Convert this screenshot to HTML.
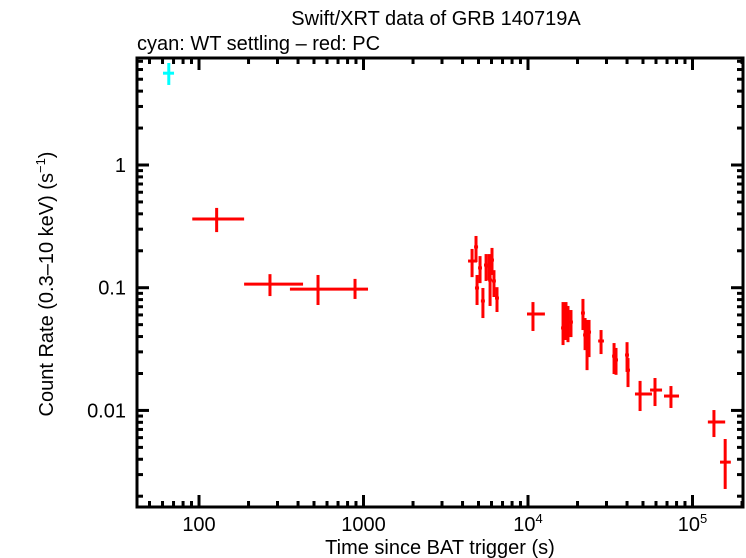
<!DOCTYPE html>
<html><head><meta charset="utf-8"><style>
html,body{margin:0;padding:0;background:#fff;}
svg{display:block;font-family:"Liberation Sans",sans-serif;}
</style></head><body>
<svg id="chart" width="746" height="558" viewBox="0 0 746 558" xmlns="http://www.w3.org/2000/svg">
<text x="436" y="25" font-size="20" text-anchor="middle">Swift/XRT data of GRB 140719A</text>
<text x="137" y="50" font-size="20">cyan: WT settling – red: PC</text>
<text x="440" y="554" font-size="20" text-anchor="middle">Time since BAT trigger (s)</text>
<text transform="translate(53,284) rotate(-90)" font-size="20" text-anchor="middle">Count Rate (0.3–10 keV) (s<tspan font-size="13" dy="-8">−1</tspan><tspan dy="8">)</tspan></text>
<g id="marks"></g>
<g id="axes"></g>
</svg>
<script>
const wtT=[65.5], wtTlo=[60.4], wtThi=[70.5], wtV=[5.6], wtVlo=[4.49], wtVhi=[6.78];
const pcT=[128,270,529,888,4570,4830,4900,5110,5320,5560,5800,5880,6040,6210,6480,10720,16330,17020,17500,18250,21580,22230,22850,23500,27800,33350,34280,40000,40550,48000,59150,73960,135000,158000];
const pcTlo=[91,188,357,740,4320,4700,4760,4970,5170,5400,5640,5720,5880,6040,6300,9860,15880,16550,17020,17750,20990,21620,22230,22860,26700,32440,33340,38900,39450,44700,55200,67100,124000,147000];
const pcThi=[188,429,740,1065,4900,4970,5040,5250,5470,5710,5960,6040,6210,6380,6660,12670,16800,17500,17990,18760,22180,22850,23490,24160,28950,34280,35240,41120,41690,56700,65300,82800,158000,171000];
const pcV=[0.363,0.107,0.0975,0.0975,0.165,0.215,0.0995,0.145,0.078,0.153,0.150,0.1155,0.168,0.1135,0.0824,0.0611,0.047,0.0646,0.0525,0.0525,0.0622,0.0412,0.0329,0.0435,0.0368,0.0277,0.0258,0.0283,0.0213,0.0136,0.01466,0.0131,0.00804,0.00379];
const pcVlo=[0.284,0.0855,0.0723,0.081,0.122,0.162,0.0723,0.109,0.0566,0.1135,0.1155,0.071,0.127,0.084,0.0634,0.0444,0.0341,0.0375,0.036,0.0396,0.0452,0.031,0.0213,0.0272,0.0288,0.0198,0.0195,0.0206,0.0155,0.00989,0.01086,0.01047,0.00607,0.00229];
const pcVhi=[0.447,0.129,0.127,0.118,0.207,0.264,0.127,0.181,0.0995,0.188,0.188,0.145,0.211,0.139,0.101,0.0764,0.0764,0.0764,0.071,0.0658,0.081,0.0566,0.0546,0.0546,0.0452,0.0354,0.0323,0.036,0.0267,0.0174,0.01837,0.0158,0.01007,0.00585];
const xTickVals=[100,1000,10000,100000];
const xTickLabels=["100","1000","10^4","10^5"];
const yTickVals=[1,0.1,0.01];
const yTickLabels=["1","0.1","0.01"];

const L=137,R=743,T=58,B=507;
const xMin=1.623,xMax=5.307,yMin=-2.787,yMax=0.872;
function X(t){return L+(Math.log10(t)-xMin)/(xMax-xMin)*(R-L);}
function Y(v){return B-(Math.log10(v)-yMin)/(yMax-yMin)*(B-T);}
const NS="http://www.w3.org/2000/svg";
const marks=document.getElementById('marks'),axes=document.getElementById('axes');
function line(g,x1,y1,x2,y2,c,w){const l=document.createElementNS(NS,'line');l.setAttribute('x1',x1);l.setAttribute('y1',y1);l.setAttribute('x2',x2);l.setAttribute('y2',y2);l.setAttribute('stroke',c);l.setAttribute('stroke-width',w);g.appendChild(l);return l;}
function series(T_,Tl,Th,V,Vl,Vh,c,name){
  for(let i=0;i<T_.length;i++){
    const g=document.createElementNS(NS,'g');
    
    
    line(g,X(Tl[i]),Y(V[i]),X(Th[i]),Y(V[i]),c,3);
    line(g,X(T_[i]),Y(Vl[i]),X(T_[i]),Y(Vh[i]),c,3);
    marks.appendChild(g);
  }
}
series(wtT,wtTlo,wtThi,wtV,wtVlo,wtVhi,'#00ffff','wt');
series(pcT,pcTlo,pcThi,pcV,pcVlo,pcVhi,'#ff0000','pc');
const fr=document.createElementNS(NS,'rect');
fr.setAttribute('x',L);fr.setAttribute('y',T);fr.setAttribute('width',R-L);fr.setAttribute('height',B-T);
fr.setAttribute('fill','none');fr.setAttribute('stroke','#000');fr.setAttribute('stroke-width',3);


axes.appendChild(fr);
for(let d=1;d<=5;d++){for(let m=1;m<10;m++){const t=m*Math.pow(10,d);const lg=Math.log10(t);if(lg<xMin||lg>xMax)continue;const x=X(t);const len=m===1?12:6;line(axes,x,B,x,B-len,'#000',3);line(axes,x,T,x,T+len,'#000',3);}}
for(let d=-3;d<=0;d++){for(let m=1;m<10;m++){const v=m*Math.pow(10,d);const lg=Math.log10(v);if(lg<yMin||lg>yMax)continue;const y=Y(v);const len=m===1?12:6;line(axes,L,y,L+len,y,'#000',3);line(axes,R,y,R-len,y,'#000',3);}}
xTickVals.forEach((v,i)=>{
  const t=document.createElementNS(NS,'text');
  
  
  t.setAttribute('x',X(v));t.setAttribute('y',531);t.setAttribute('font-size','20');t.setAttribute('text-anchor','middle');
  const lab=xTickLabels[i];
  if(lab.indexOf('^')>=0){const p=lab.split('^');t.textContent=p[0];const s=document.createElementNS(NS,'tspan');s.setAttribute('font-size','13');s.setAttribute('dy','-8');s.textContent=p[1];t.appendChild(s);}
  else t.textContent=lab;
  axes.appendChild(t);
});
yTickVals.forEach((v,i)=>{
  const t=document.createElementNS(NS,'text');
  
  
  t.setAttribute('x',126);t.setAttribute('y',Y(v)+7);t.setAttribute('font-size','20');t.setAttribute('text-anchor','end');
  t.textContent=yTickLabels[i];
  axes.appendChild(t);
});
</script>
</body></html>
